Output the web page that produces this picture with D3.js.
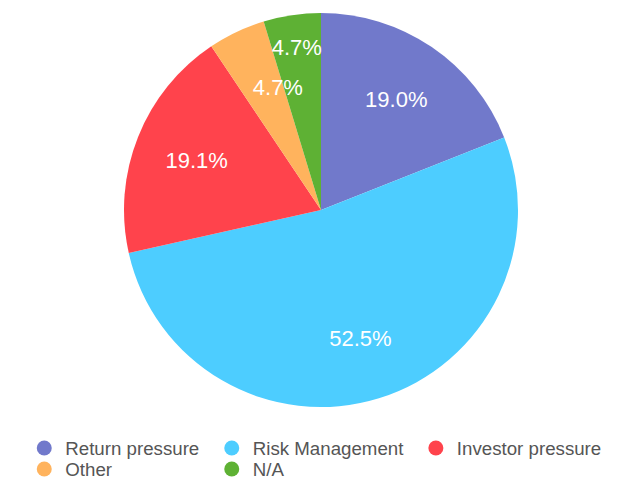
<!DOCTYPE html>
<html>
<head>
<meta charset="utf-8">
<script src="https://cdn.jsdelivr.net/npm/d3@7/dist/d3.min.js"></script>
<style>
html,body{margin:0;padding:0;background:#fff;}
svg{display:block;font-family:"Liberation Sans",Arial,Helvetica,sans-serif;}
</style>
</head>
<body>
<svg id="chart" width="618" height="479"></svg>
<script>
const categories = ["Return pressure", "Risk Management", "Investor pressure", "Other", "N/A"];
const values = [19.0, 52.5, 19.1, 4.7, 4.7];
const labels = ["19.0%", "52.5%", "19.1%", "4.7%", "4.7%"];
const colors = ["#7179CB", "#4DCDFF", "#FF434C", "#FFB35D", "#5EB134"];

// label placement tweaks (style only)
const labelAdjust = { "Other": { dAngle: 6, rFrac: 0.66 }, "N/A": { dAngle: 0, rFrac: 0.835 } };

const cx = 321, cy = 210, R = 197;
const svg = d3.select("#chart");

const data = categories.map((c, i) => ({ name: c, value: values[i], label: labels[i], color: colors[i] }));

const pie = d3.pie().value(d => d.value).sort(null);
const arcs = pie(data);
const arc = d3.arc().innerRadius(0).outerRadius(R);

const g = svg.append("g").attr("transform", "translate(" + cx + "," + cy + ")");
g.selectAll("path.slice").data(arcs).enter().append("path")
  .attr("class", "slice")
  .attr("d", arc).attr("fill", d => d.data.color);

const lg = svg.append("g").attr("transform", "translate(" + cx + "," + cy + ")");
arcs.forEach(d => {
  const adj = labelAdjust[d.data.name] || { dAngle: 0, rFrac: 0.68 };
  const a = (d.startAngle + d.endAngle) / 2 + adj.dAngle * Math.PI / 180;
  const r = R * adj.rFrac;
  lg.append("text")
    .attr("x", r * Math.sin(a))
    .attr("y", -r * Math.cos(a))
    .attr("text-anchor", "middle")
    .attr("dominant-baseline", "central")
    .attr("fill", "#ffffff")
    .attr("font-size", 22)
    .text(d.data.label);
});

// Legend
const ncol = 3;
const legend = svg.append("g");
const rowY = [448, 469];
const items = legend.selectAll("g.item").data(data).enter().append("g").attr("class", "item");
items.append("circle").attr("r", 7.5).attr("fill", d => d.color);
items.append("text").attr("x", 21).attr("dominant-baseline", "central")
  .attr("fill", "#555").attr("font-size", 18.7).text(d => d.name);

const widths = [];
items.each(function(d, i) {
  const w = d3.select(this).select("text").node().getComputedTextLength();
  const col = i % ncol;
  widths[col] = Math.max(widths[col] || 0, 21 + w);
});
const gap = 25 + 7.5;
const totalW = widths.reduce((a, b) => a + b, 0) + gap * (ncol - 1) + 7.5;
let x = cx - 2 - totalW / 2 + 7.5;
const colX = [];
for (let j = 0; j < ncol; j++) { colX[j] = x; x += widths[j] + gap; }
items.attr("transform", (d, i) => "translate(" + colX[i % ncol] + "," + rowY[Math.floor(i / ncol)] + ")");
</script>
</body>
</html>
